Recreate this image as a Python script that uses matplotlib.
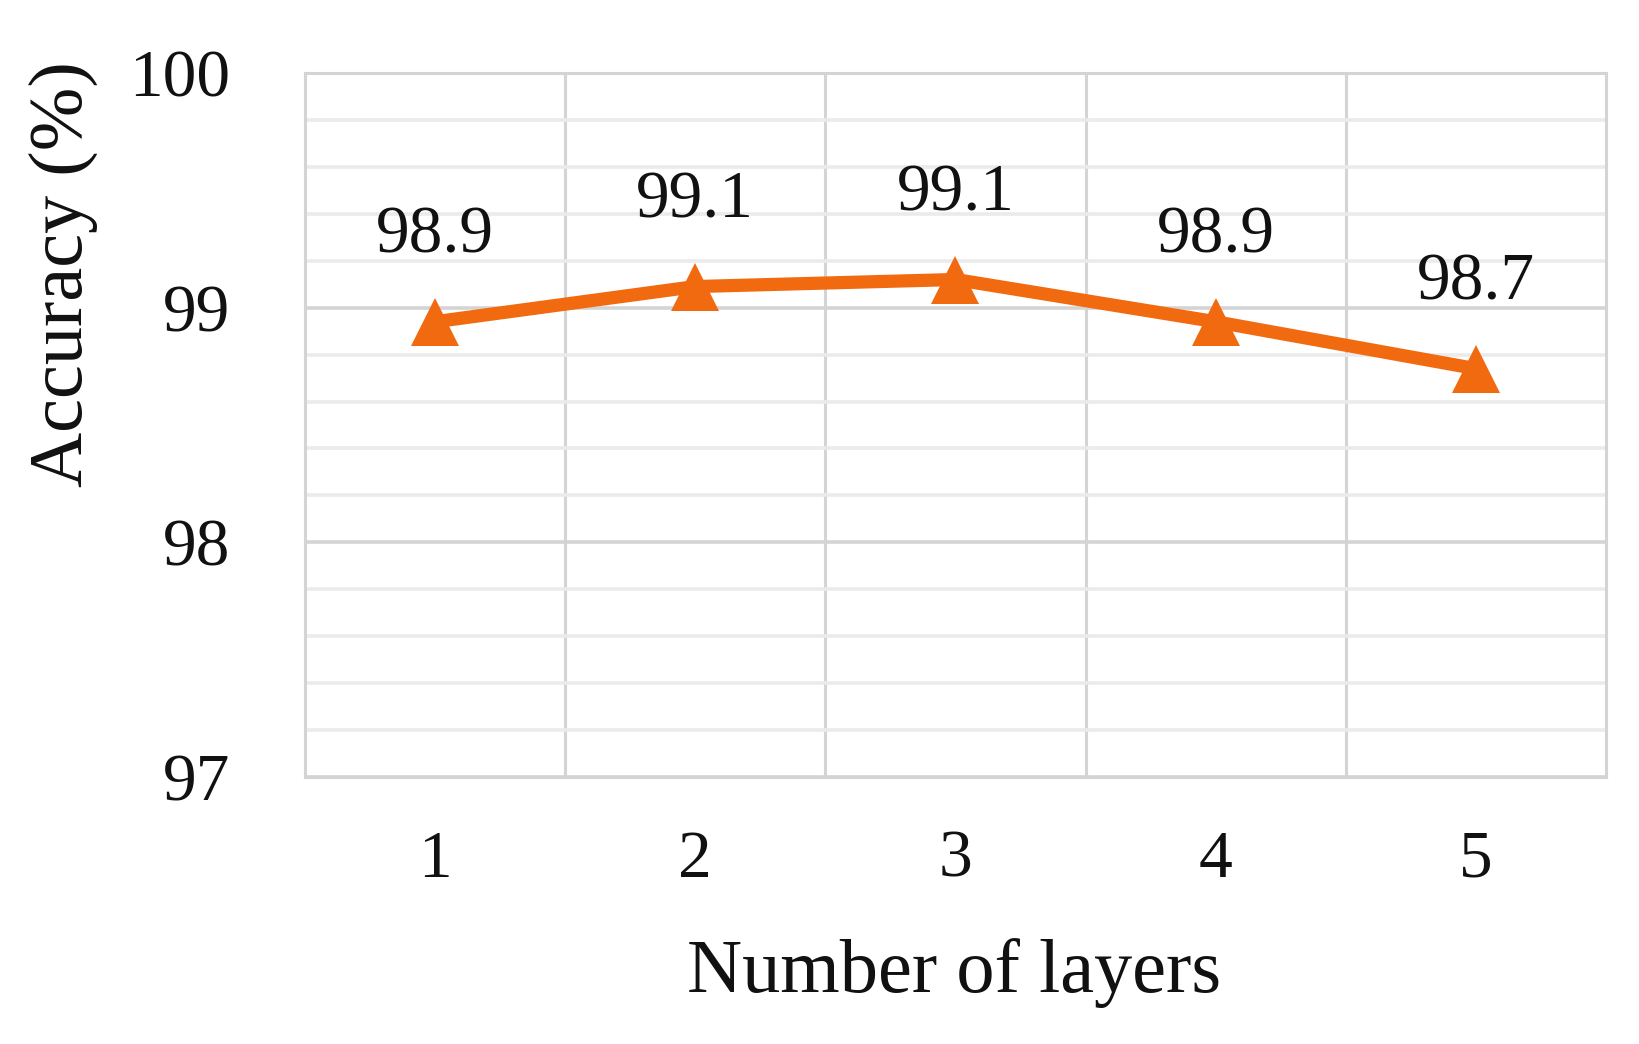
import matplotlib
matplotlib.use("Agg")
import matplotlib.pyplot as plt
import numpy as np

# Data
layers = [1, 2, 3, 4, 5]
accuracy = [98.94, 99.09, 99.12, 98.94, 98.74]
xtick_labels = ["1", "2", "3", "4", "5"]
ytick_values = [97, 98, 99, 100]

plt.rcParams['font.family'] = ['Liberation Serif', 'DejaVu Serif']

W, H = 1640, 1044
fig = plt.figure(figsize=(W / 100, H / 100), dpi=100)
left, right, top, bottom = 305, 1606, 73, 777
ax = fig.add_axes([left / W, 1 - bottom / H, (right - left) / W, (bottom - top) / H])

orange = '#F26A10'
major_c = '#d4d4d4'
minor_c = '#ebebeb'
text_c = '#111111'

ax.set_xlim(0.5, 5.5)
ax.set_ylim(97, 100)

# grid
ax.set_yticks(ytick_values)
ax.set_yticks(np.arange(97, 100.01, 0.2), minor=True)
ax.set_xticks(layers)
ax.set_xticks([1.5, 2.5, 3.5, 4.5], minor=True)
ax.set_xticklabels(xtick_labels)
ax.grid(True, axis='y', which='major', color=major_c, lw=2.6, zorder=0)
ax.grid(True, axis='y', which='minor', color=minor_c, lw=2.6, zorder=0)
ax.grid(True, axis='x', which='minor', color=major_c, lw=2.2, zorder=0)
ax.set_axisbelow(True)
for s in ax.spines.values():
    s.set_color(major_c)
    s.set_linewidth(2.2)

ax.tick_params(which='both', length=0)
ax.tick_params(axis='y', which='major', pad=54, labelsize=48.5, labelcolor=text_c)
ax.tick_params(axis='x', which='major', pad=38, labelsize=48.5, labelcolor=text_c)

ax.plot(layers, accuracy, color=orange, lw=9.5, marker='^', markersize=34,
        markeredgewidth=0, zorder=3, clip_on=False)

for x, y in zip(layers, accuracy):
    ax.annotate(f"{y:.1f}", (x, y), xytext=(0, 50), textcoords='offset points',
                ha='center', va='baseline', fontsize=48.5, color=text_c)

fig.text(63 / W, 1 - 274 / H, 'Accuracy (%)', rotation=90, ha='center', va='center',
         fontsize=55, color=text_c)
fig.text(954 / W, 1 - 992 / H, 'Number of layers', ha='center', va='baseline',
         fontsize=55, color=text_c)

fig.savefig('out.png', dpi=100, facecolor='white')
